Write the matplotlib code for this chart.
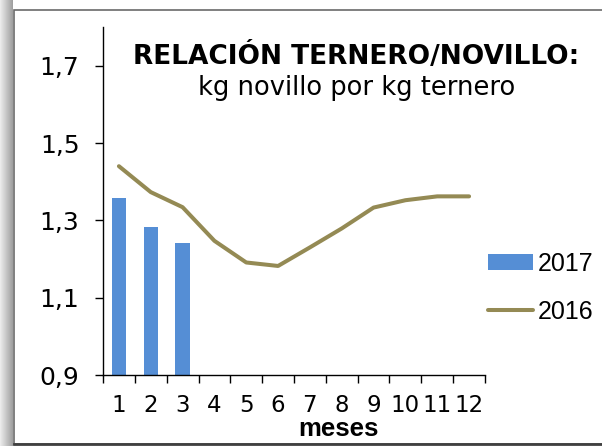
import numpy as np
import matplotlib.pyplot as plt
from matplotlib.patches import Rectangle

meses = list(range(1, 13))
valores_2017 = [1.358, 1.282, 1.241]
valores_2016 = [1.440, 1.373, 1.334, 1.247, 1.191, 1.182, 1.230, 1.279, 1.333, 1.352, 1.362, 1.362]
yticks = [0.9, 1.1, 1.3, 1.5, 1.7]
ytick_labels = ['0,9', '1,1', '1,3', '1,5', '1,7']

W, H = 602, 446
fig = plt.figure(figsize=(W / 100, H / 100), dpi=100)

# background frame with grey shadow on the left
bg = fig.add_axes([0, 0, 1, 1])
bg.set_xlim(0, W)
bg.set_ylim(H, 0)
bg.axis('off')
grad = np.linspace(0.93, 0.62, 50).reshape(1, -1)
bg.imshow(grad, cmap='gray', vmin=0, vmax=1, extent=[0, 13, H, 0], aspect='auto')
bg.add_patch(Rectangle((13.5, 10), W, 434, facecolor='white', edgecolor='#6a6a6a', lw=1.2))
bg.plot([13.5, W], [444, 444], color='#404040', lw=2)

ax = fig.add_axes([103 / W, 1 - 375 / H, (485 - 103) / W, (375 - 27) / H])
bars = ax.bar(meses[:3], valores_2017, width=0.45, color='#558ED5', label='2017', zorder=2)
line, = ax.plot(meses, valores_2016, color='#948A54', lw=2.9, solid_capstyle='round',
                solid_joinstyle='round', label='2016', zorder=3)

ax.set_xlim(0.5, 12.5)
ax.set_ylim(0.9, 1.8)
ax.set_yticks(yticks)
ax.set_yticklabels(ytick_labels, fontsize=18, family='DejaVu Sans')
ax.set_xticks(np.arange(0.5, 13, 1))
ax.set_xticklabels([])
ax.set_xticks(meses, minor=True)
ax.set_xticklabels([str(m) for m in meses], minor=True, fontsize=16.5, family='DejaVu Sans')
ax.tick_params(axis='x', which='major', length=6, width=1, direction='out')
ax.tick_params(axis='x', which='minor', length=0, pad=14)
ax.tick_params(axis='y', length=6, width=1, pad=11)
for s in ['top', 'right']:
    ax.spines[s].set_visible(False)
for s in ['left', 'bottom']:
    ax.spines[s].set_linewidth(1)
ax.set_facecolor('none')

fig.text(356 / W, 1 - 56 / H, 'RELACIÓN TERNERO/NOVILLO:', ha='center', va='center',
         fontsize=19, fontweight='bold', family='DejaVu Sans')
fig.text(357 / W, 1 - 88 / H, 'kg novillo por kg ternero', ha='center', va='center',
         fontsize=18.5, family='DejaVu Sans')
fig.text(338 / W, 1 - 429 / H, 'meses', ha='center', va='center',
         fontsize=18.5, fontweight='bold', family='Liberation Sans')

fig.legend([bars, line], ['2017', '2016'], loc='upper left',
           bbox_to_anchor=(488 / W, 1 - 252 / H), frameon=False,
           prop={'family': 'Liberation Sans', 'size': 18}, handlelength=1.8,
           handleheight=0.6, handletextpad=0.2, labelspacing=0.95, borderpad=0,
           borderaxespad=0)

fig.savefig('out.png', dpi=100)
